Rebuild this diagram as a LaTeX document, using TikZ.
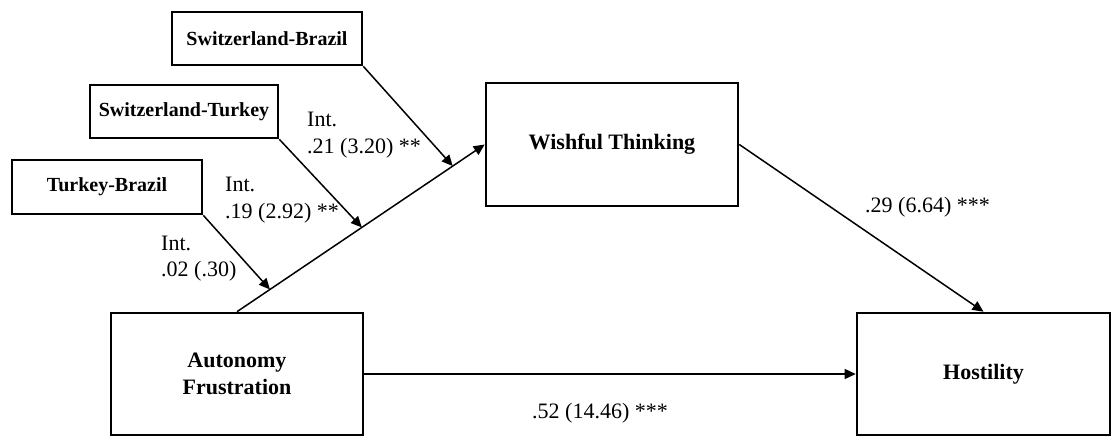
\documentclass[tikz,border=0pt]{standalone}
\usepackage{fontspec}
\setmainfont{Liberation Serif}
\usetikzlibrary{arrows.meta}
\begin{document}
\begin{tikzpicture}[x=1pt,y=-1pt,
  box/.style={draw, line width=2.6pt, inner sep=0pt, align=center,
    font=\bfseries\fontsize{22}{27}\selectfont},
  modbox/.style={box, minimum height=53pt,
    font=\bfseries\fontsize{20}{24}\selectfont},
  lbl/.style={inner sep=0pt, align=left, font=\fontsize{22}{26.5}\selectfont},
  conn/.style={line width=1.5pt, -{Triangle[length=11pt,width=10pt]}},
]
\useasboundingbox (0,0) rectangle (1112,437);

% moderator boxes
\node[modbox, minimum width=190pt] (sb) at (267,38.5) {Switzerland-Brazil};
\node[modbox, minimum width=188pt] (st) at (184,111.5) {Switzerland-Turkey};
\node[modbox, minimum width=190pt, minimum height=54pt] (tb) at (107,187) {Turkey-Brazil};

% main variables
\node[box, minimum width=252pt, minimum height=123pt] (wt) at (612,144.5) {Wishful Thinking};
\node[box, minimum width=252pt, minimum height=122pt] (af) at (237,374) {Autonomy\\Frustration};
\node[box, minimum width=253pt, minimum height=122pt] (ho) at (983.5,374) {Hostility};

% a path: predictor to mediator, with the points where the moderators meet it
\draw[conn] (af.north)
  -- coordinate[pos=0.133] (m3) coordinate[pos=0.504] (m2) coordinate[pos=0.871] (m1)
  (wt.west);

\draw[conn] (sb.south east) -- (m1);
\draw[conn] (st.south east) -- (m2);
\draw[conn] (tb.south east) -- (m3);

% b path and direct effect
\draw[conn] (wt.east) -- (ho.north);
\draw[conn] (af.east) -- (ho.west);

% coefficients
\node[lbl, anchor=west] (l1) at (307,135) {Int.\\.21 (3.20) **};
\node[lbl, anchor=west] (l2) at (225,200) {Int.\\.19 (2.92) **};
\node[lbl, anchor=west] (l3) at (161,258.5) {Int.\\.02 (.30)};
\node[lbl, anchor=west] (l4) at (865,207) {.29 (6.64) ***};
\node[lbl, anchor=west] (l5) at (532,413) {.52 (14.46) ***};
\end{tikzpicture}
\end{document}
